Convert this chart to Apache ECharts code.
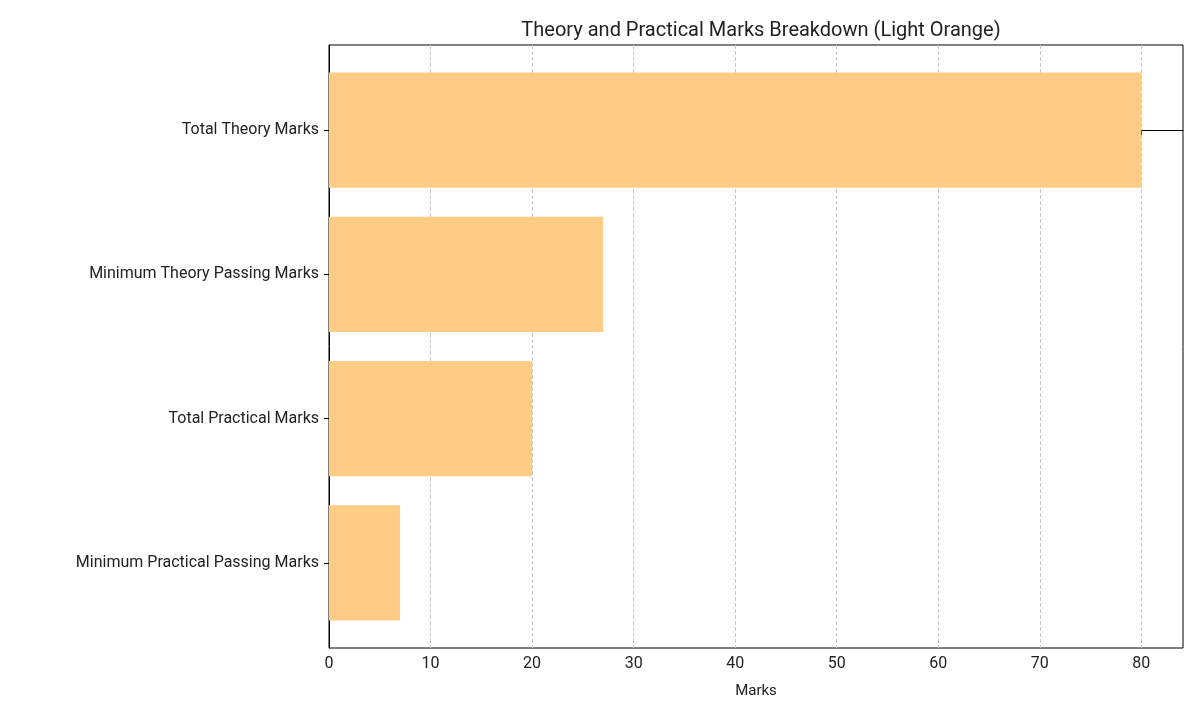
<!DOCTYPE html>
<html><head><meta charset="utf-8">
<script src="https://cdn.jsdelivr.net/npm/echarts@6/dist/echarts.min.js"></script>
<style>html,body{margin:0;padding:0;background:#fff}#c{width:1200px;height:720px}</style>
</head><body><div id="c"></div>
<script>
const categories = ["Total Theory Marks","Minimum Theory Passing Marks","Total Practical Marks","Minimum Practical Passing Marks"];
const values = [80, 27, 20, 7];
const xTicks = [0,10,20,30,40,50,60,70,80];
const chart = echarts.init(document.getElementById('c'));
const font = 'Roboto, "Noto Sans", sans-serif';
chart.setOption({
  animation:false,
  title:{text:'Theory and Practical Marks Breakdown (Light Orange)',left:756,top:16,textAlign:'center',
    textStyle:{fontFamily:font,fontSize:20,fontWeight:'normal',color:'#222'}},
  grid:{left:329,right:17,top:45,bottom:72,show:true,borderColor:'#000',borderWidth:1},
  xAxis:{type:'value',min:0,max:84.1,name:'Marks',nameLocation:'middle',nameGap:36,
    nameTextStyle:{fontFamily:font,fontSize:15,color:'#222'},
    axisLine:{show:true,lineStyle:{color:'#000'}},
    axisTick:{show:true,length:5,lineStyle:{color:'#000'},customValues:xTicks},
    axisLabel:{fontFamily:font,fontSize:16,color:'#222',customValues:xTicks},
    splitLine:{show:true,lineStyle:{type:'dashed',color:'#c8c8c8'}},
    interval:10},
  yAxis:{type:'value',min:-0.59,max:3.59,inverse:true,
    axisLine:{show:true,lineStyle:{color:'#000'}},
    axisTick:{show:true,length:5,lineStyle:{color:'#000'},customValues:[0,1,2,3]},
    axisLabel:{fontFamily:font,fontSize:16,color:'#222',margin:10,customValues:[0,1,2,3],
      formatter:v=>categories[Math.round(v)]||''},
    splitLine:{show:false}},
  series:[{type:'custom',
    data:values.map((v,i)=>[v,i]),
    encode:{x:0,y:1},
    renderItem:(params,api)=>{
      const v=api.value(0), i=api.value(1);
      const p0=api.coord([0,i-0.4]), p1=api.coord([v,i+0.4]);
      return {type:'rect',shape:{x:p0[0],y:Math.min(p0[1],p1[1]),width:p1[0]-p0[0],height:Math.abs(p1[1]-p0[1])},
        style:{fill:'#FFCC85'}};
    }}]
});
</script></body></html>
